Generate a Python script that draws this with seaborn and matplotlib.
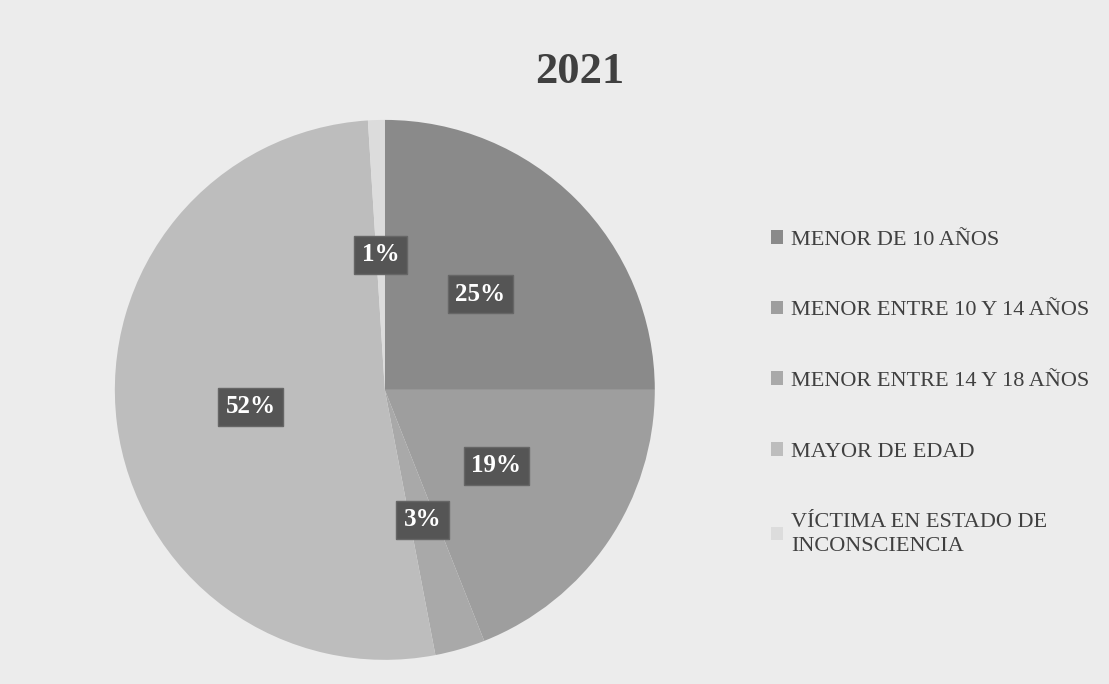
import matplotlib.pyplot as plt
import seaborn as sns

categories = ['MENOR DE 10 AÑOS', 'MENOR ENTRE 10 Y 14 AÑOS', 'MENOR ENTRE 14 Y 18 AÑOS',
              'MAYOR DE EDAD', 'VÍCTIMA EN ESTADO DE\nINCONSCIENCIA']
values = [25, 19, 3, 52, 1]
colors = ['#8a8a8a', '#9e9e9e', '#a9a9a9', '#bdbdbd', '#dcdcdc']

sns.set_theme(style='white')
plt.rcParams['font.family'] = ['Liberation Serif', 'DejaVu Serif']

fig = plt.figure(figsize=(11.09, 6.84), dpi=100, facecolor='#ececec')
ax = fig.add_axes([0.347 - 0.2435, 0.43 - 0.3947, 0.487, 0.7894])
ax.set_facecolor('#ececec')

wedges, texts, autotexts = ax.pie(
    values, colors=colors, startangle=90, counterclock=False,
    autopct='%d%%', pctdistance=0.5,
    wedgeprops=dict(linewidth=0),
    textprops=dict(color='white', fontsize=18, fontweight='bold'))
for t in autotexts:
    t.set_bbox(dict(boxstyle='square,pad=0.3', facecolor='#555555', edgecolor='#666666'))
ax.set_xlim(-1, 1)
ax.set_ylim(-1, 1)
ax.set_aspect('equal')

fig.text(0.523, 0.895, '2021', ha='center', va='center', fontsize=32,
         fontweight='bold', color='#404040')

leg = fig.legend(wedges, categories, loc='center left', bbox_to_anchor=(0.677, 0.425),
                 frameon=False, fontsize=16, labelspacing=2.3, handlelength=0.55,
                 handleheight=0.55, handletextpad=0.35, labelcolor='#404040')
for t in leg.get_texts():
    t.set_linespacing(1.4)

fig.savefig('out.png', dpi=100, facecolor=fig.get_facecolor())
